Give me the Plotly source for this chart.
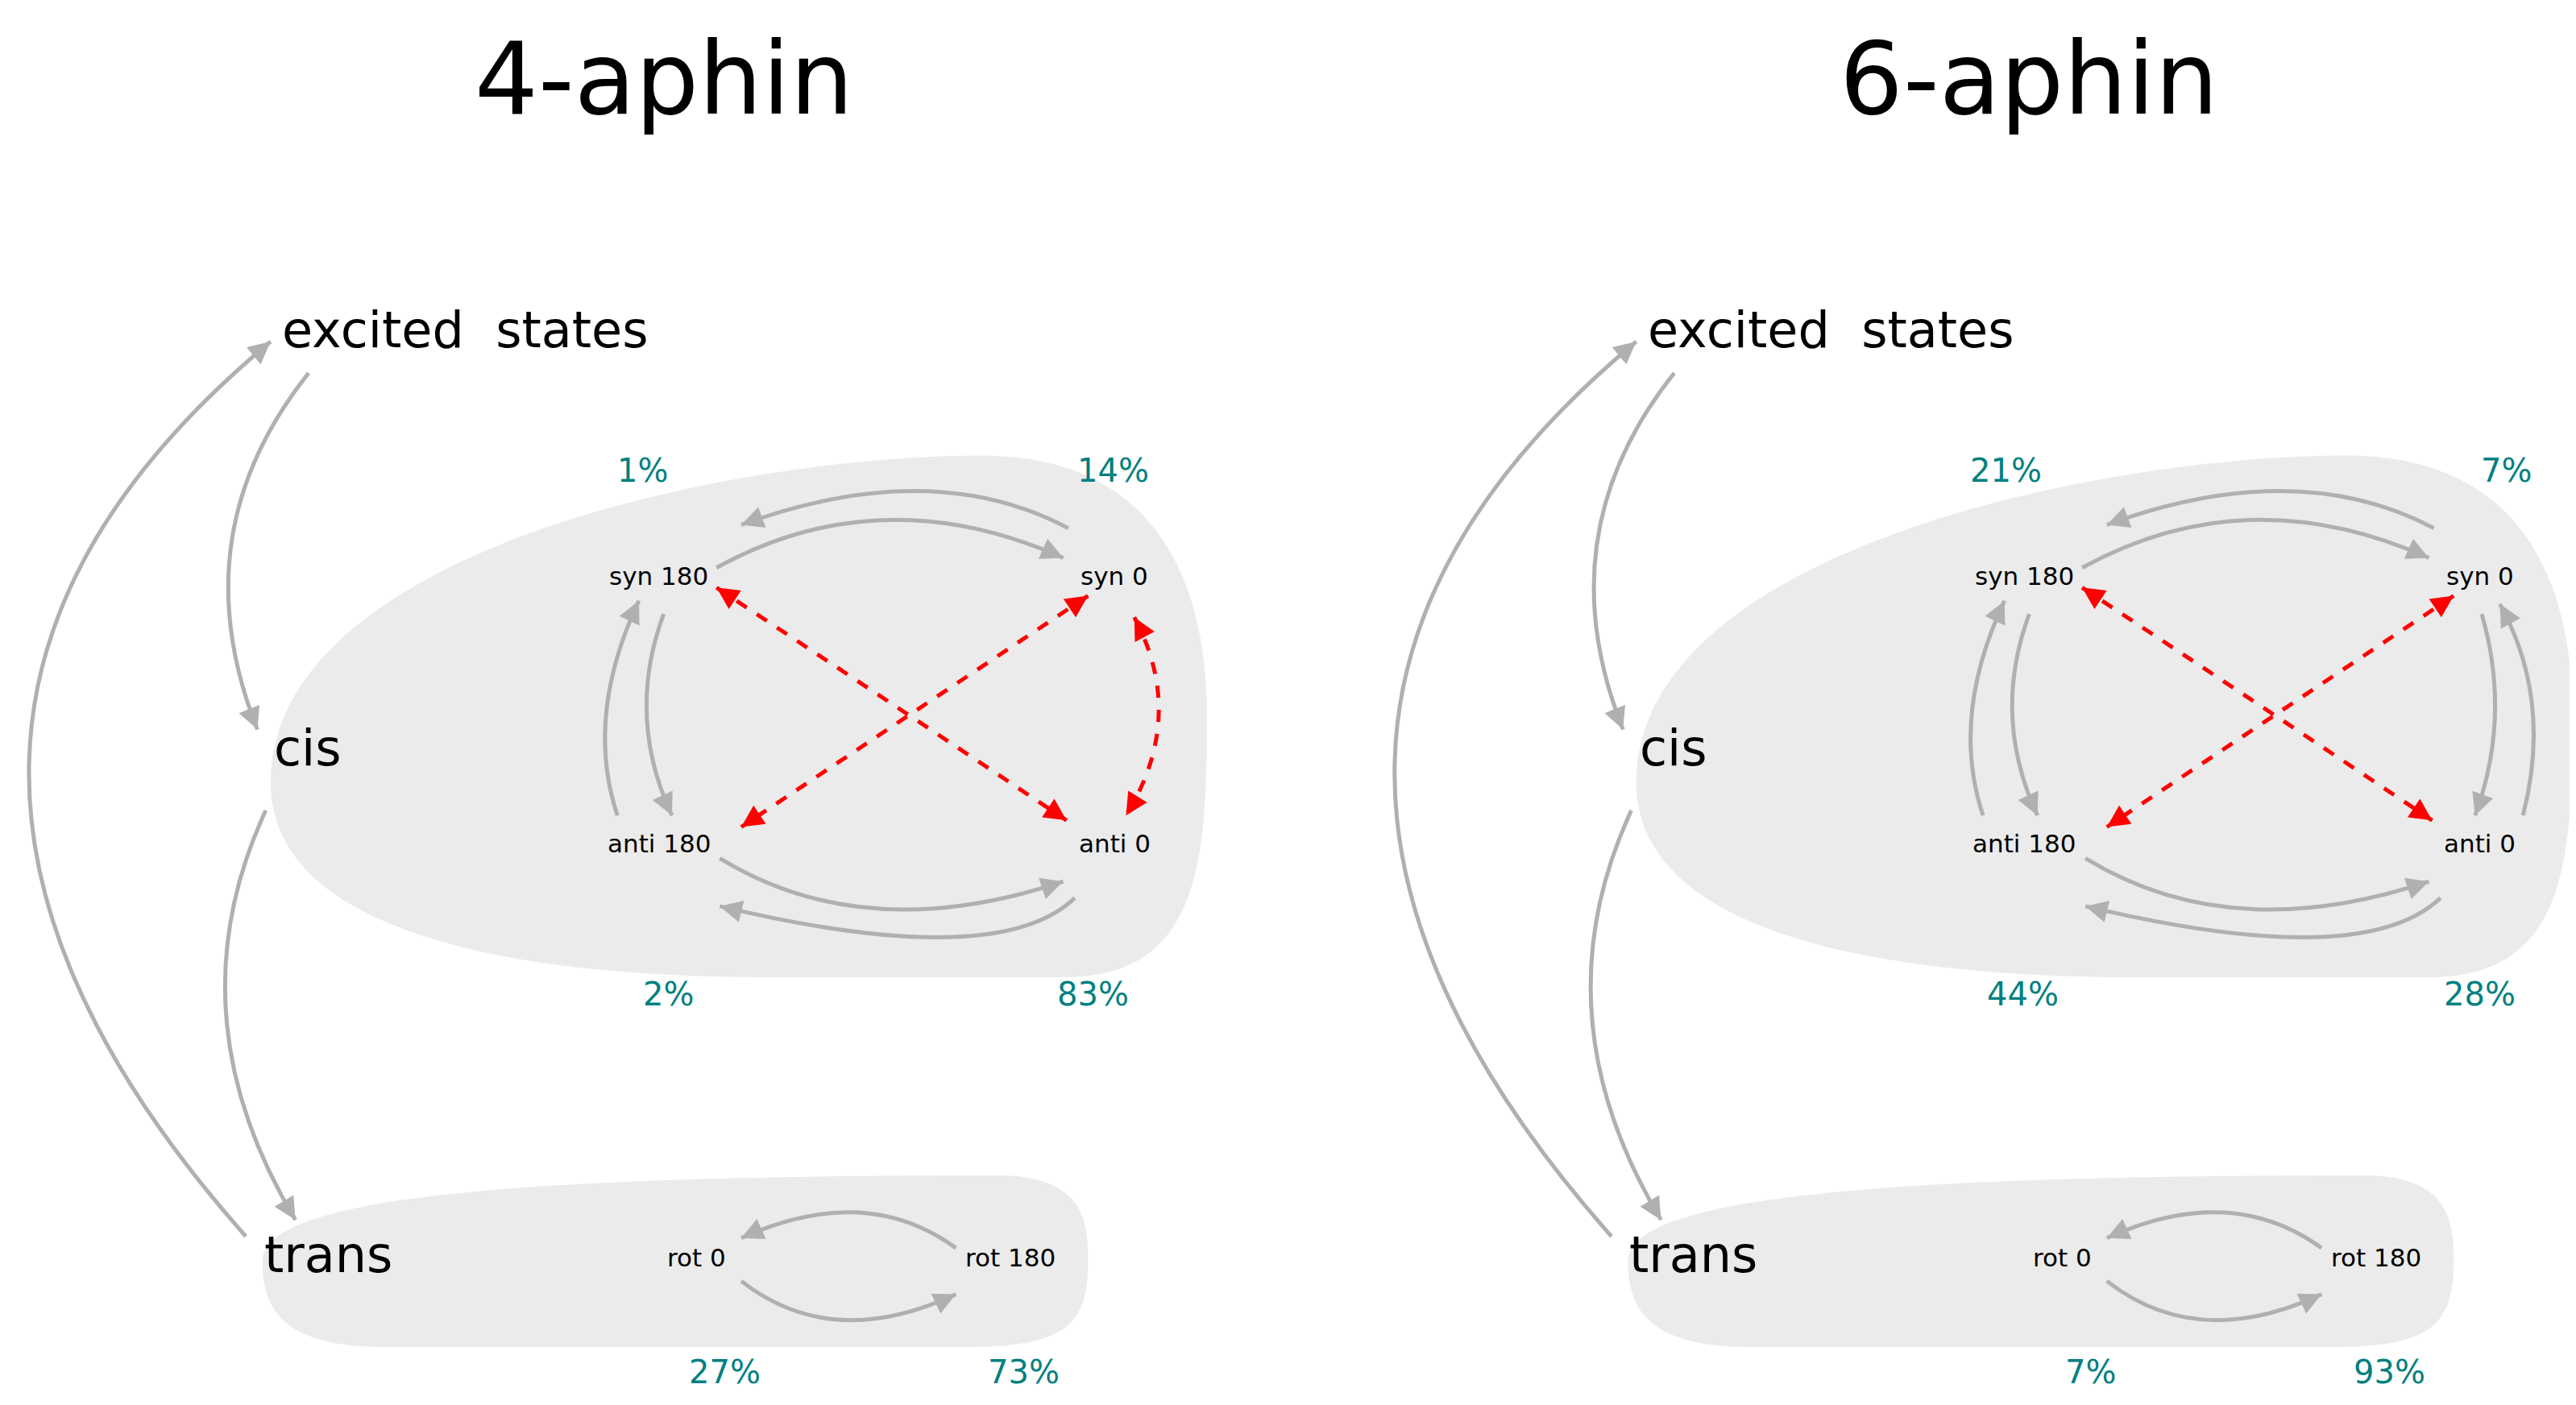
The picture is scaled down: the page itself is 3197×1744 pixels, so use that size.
import math
import plotly.graph_objects as go

panels = ["4-aphin", "6-aphin"]
cis_states = ["syn 180", "syn 0", "anti 180", "anti 0"]
trans_states = ["rot 0", "rot 180"]
cis_pct = [["1%", "14%", "2%", "83%"], ["21%", "7%", "44%", "28%"]]
trans_pct = [["27%", "73%"], ["7%", "93%"]]
level_labels = ["excited  states", "cis", "trans"]

W, H = 3197, 1744
XR, YR = 1560, 851
GRAY = "#b0b0b0"
RED = "#ff0000"
TEAL = "#008080"
FONT = "DejaVu Sans"

fig = go.Figure()
shapes, ann = [], []

def curve(p0, c, p2, color=GRAY, dash="solid", heads=("end",), w=5):
    shapes.append(dict(type="path", xref="x", yref="y",
                       path=f"M {p0[0]},{p0[1]} Q {c[0]},{c[1]} {p2[0]},{p2[1]}",
                       line=dict(color=color, width=w, dash="dash" if dash == "dash" else "solid")))
    for h in heads:
        tip, ctl = (p2, c) if h == "end" else (p0, c)
        dx, dy = tip[0] - ctl[0], tip[1] - ctl[1]
        n = math.hypot(dx, dy) or 1
        ann.append(dict(x=tip[0], y=tip[1], ax=tip[0] - 6 * dx / n, ay=tip[1] - 6 * dy / n,
                        xref="x", yref="y", axref="x", ayref="y", text="", showarrow=True,
                        arrowhead=2, arrowsize=1.1, arrowwidth=w, arrowcolor=color))

def text(x, y, s, size, color="black", xanchor="center"):
    ann.append(dict(x=x, y=y, xref="x", yref="y", text=s, showarrow=False, xanchor=xanchor,
                    yanchor="middle", font=dict(family=FONT, size=size, color=color)))

for i, name in enumerate(panels):
    o = 827 * i
    X = lambda v: v + o
    text(X(398), 44, name, 124)
    shapes.append(dict(type="path", layer="below", line=dict(width=0), fillcolor="#ebebeb",
        path=f"M {X(160)},470 C {X(160)},565 {X(320)},588 {X(460)},588 L {X(640)},588 "
             f"C {X(722)},588 {X(727)},520 {X(727)},430 C {X(727)},340 {X(690)},272 {X(590)},272 "
             f"C {X(440)},272 {X(160)},330 {X(160)},470 Z"))
    shapes.append(dict(type="path", layer="below", line=dict(width=0), fillcolor="#ebebeb",
        path=f"M {X(155)},760 C {X(155)},722 {X(300)},708 {X(600)},708 C {X(652)},708 {X(655)},735 {X(655)},760 "
             f"C {X(655)},800 {X(640)},812 {X(580)},812 L {X(230)},812 C {X(168)},812 {X(155)},790 {X(155)},760 Z"))
    text(X(166), 196, level_labels[0], 62, xanchor="left")
    text(X(161), 449, level_labels[1], 62, xanchor="left")
    text(X(155), 756, level_labels[2], 62, xanchor="left")
    npos = [(395, 345), (671, 345), (395, 507), (671, 507)]
    for (x, y), s in zip(npos, cis_states):
        text(X(x), y, s, 31)
    for (x, y), s in zip([(418, 758), (608, 758)], trans_states):
        text(X(x), y, s, 31)
    ppos = [(385, 281), (670, 281), (401, 598), (658, 598)]
    if i == 1:
        ppos = [(1211 - o, 281), (1514 - o, 281), (1221 - o, 598), (1498 - o, 598)]
    for (x, y), s in zip(ppos, cis_pct[i]):
        text(X(x), y, s, 40, TEAL)
    for (x, y), s in zip([(435, 827), (616, 827)], trans_pct[i]):
        text(X(x), y, s, 40, TEAL)
    P = lambda x, y: (X(x), y)
    curve(P(183, 222), P(105, 320), P(152, 438))
    curve(P(157, 487), P(100, 610), P(175, 735))
    curve(P(145, 745), P(-125, 440), P(160, 203))
    curve(P(643, 316), P(560, 272), P(445, 314))
    curve(P(430, 340), P(530, 285), P(640, 334))
    curve(P(647, 540), P(600, 585), P(432, 545))
    curve(P(432, 516), P(520, 570), P(640, 530))
    curve(P(370, 490), P(350, 430), P(383, 360))
    curve(P(398, 368), P(375, 430), P(403, 490))
    curve(P(575, 752), P(520, 712), P(445, 746))
    curve(P(445, 772), P(500, 815), P(575, 780))
    curve(P(430, 352), P(536, 422), P(642, 493), RED, "dash", ("start", "end"))
    curve(P(655, 357), P(550, 427), P(445, 497), RED, "dash", ("start", "end"))
    if i == 0:
        curve(P(683, 370), P(715, 430), P(678, 490), RED, "dash", ("start", "end"))
    else:
        curve(P(672, 368), P(690, 430), P(668, 490))
        curve(P(697, 490), P(715, 420), P(683, 362))

fig.update_layout(width=W, height=H, margin=dict(l=0, r=0, t=0, b=0),
                  plot_bgcolor="white", paper_bgcolor="white", showlegend=False,
                  shapes=shapes, annotations=ann,
                  xaxis=dict(range=[0, XR], visible=False, fixedrange=True),
                  yaxis=dict(range=[YR, 0], visible=False, fixedrange=True))
fig.write_html("out.html")
